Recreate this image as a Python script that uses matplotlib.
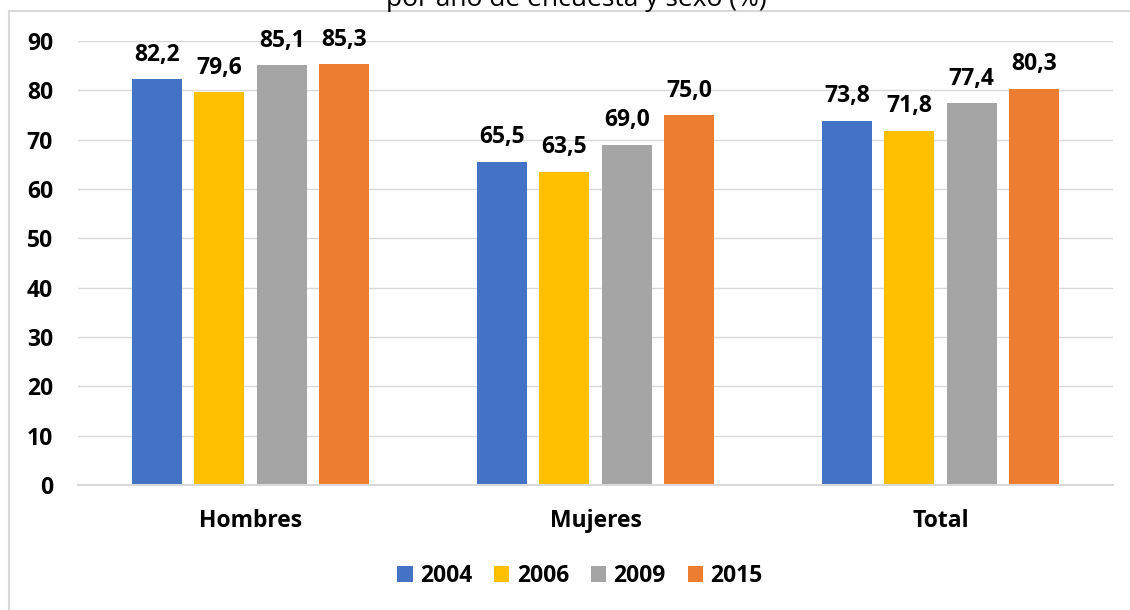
import numpy as np
import matplotlib.pyplot as plt
from matplotlib.lines import Line2D

plt.rcParams["font.family"] = ["Open Sans", "DejaVu Sans"]

categories = ["Hombres", "Mujeres", "Total"]
years = ["2004", "2006", "2009", "2015"]
v2004 = [82.2, 65.5, 73.8]
v2006 = [79.6, 63.5, 71.8]
v2009 = [85.1, 69.0, 77.4]
v2015 = [85.3, 75.0, 80.3]
colors = ["#4472C4", "#FFC000", "#A5A5A5", "#ED7D31"]
yticks = [0, 10, 20, 30, 40, 50, 60, 70, 80, 90]

W, H = 1130, 610
FS = 16.5
fig = plt.figure(figsize=(W / 100, H / 100), dpi=100)
ax = fig.add_axes([78 / W, 1 - 485 / H, (1113 - 78) / W, (485 - 41) / H])

x = np.arange(len(categories))
step = 0.181
width = 0.145
series = [v2004, v2006, v2009, v2015]
for i, (vals, col, yr) in enumerate(zip(series, colors, years)):
    xs = x + (i - 1.5) * step
    ax.bar(xs, vals, width, color=col, label=yr, zorder=3)
    for xi, v in zip(xs, vals):
        ax.annotate(f"{v:.1f}".replace(".", ","), (xi, v), xytext=(0, 13.3),
                    textcoords="offset points", ha="center", va="baseline",
                    fontsize=FS, fontweight="bold", annotation_clip=False)

ax.set_xlim(-0.5, 2.5)
ax.set_ylim(0, 90)
ax.set_yticks(yticks)
ax.set_yticklabels([str(t) for t in yticks], fontsize=FS, fontweight="bold")
ax.set_xticks(x)
ax.set_xticklabels(categories, fontsize=FS, fontweight="bold")
ax.tick_params(axis="y", length=0, pad=18)
ax.tick_params(axis="x", length=0, pad=17)
ax.grid(axis="y", color="#D9D9D9", linewidth=1.0, zorder=0)
for s in ["top", "right", "left"]:
    ax.spines[s].set_visible(False)
ax.spines["bottom"].set_color("#D9D9D9")
ax.spines["bottom"].set_linewidth(1.5)
ax.spines["bottom"].set_zorder(4)

leg = fig.legend(loc="center", bbox_to_anchor=(580 / W, 1 - 576 / H), ncol=4,
                 frameon=False, prop={"size": FS, "weight": "bold"},
                 handlelength=0.66, handleheight=0.66, handletextpad=0.33,
                 columnspacing=0.95)

# chart frame (left and top edges) and the title line running off the top
fig.add_artist(Line2D([9 / W, 9 / W], [0, 1 - 11 / H], color="#D9D9D9", linewidth=1.5))
fig.add_artist(Line2D([9 / W, 1], [1 - 11 / H, 1 - 11 / H], color="#D9D9D9", linewidth=1.5))
fig.text(576 / W, 1 - 6 / H, "por año de encuesta y sexo (%)", ha="center",
         va="baseline", fontsize=19)

fig.savefig("out.png", dpi=100)
